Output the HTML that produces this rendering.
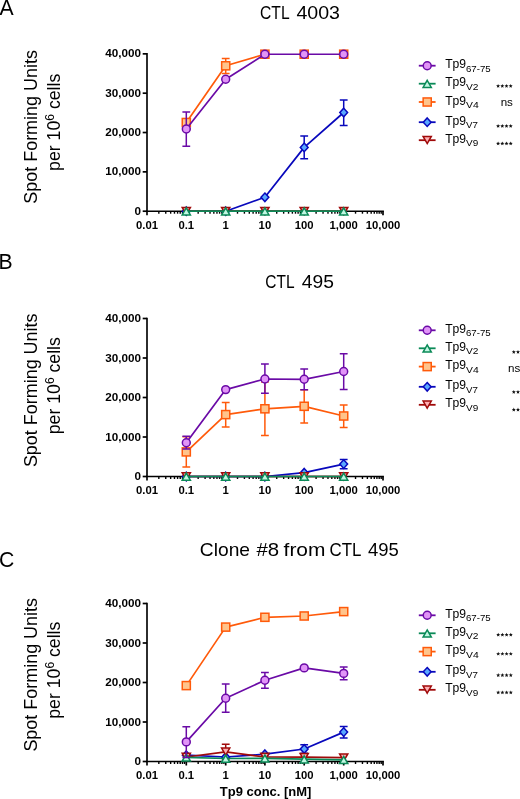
<!DOCTYPE html>
<html><head><meta charset="utf-8"><title>Tp9 ELISpot</title>
<style>
html,body{margin:0;padding:0;background:#fff;width:520px;height:799px;overflow:hidden}
svg{display:block;font-family:"Liberation Sans",sans-serif;will-change:transform}
</style></head><body>
<svg width="520" height="799" viewBox="0 0 520 799"><text x="-0.4" y="15.3" font-size="21.2" font-family='"Liberation Sans", sans-serif'>A</text>
<text x="260.06" y="19.4" font-size="18.6" textLength="29.56" lengthAdjust="spacingAndGlyphs" font-family='"Liberation Sans", sans-serif'>CTL</text>
<text x="296.4" y="19.4" font-size="18.6" textLength="43.6" lengthAdjust="spacingAndGlyphs" font-family='"Liberation Sans", sans-serif'>4003</text>
<text transform="translate(36.7 126.90) rotate(-90)" font-size="17.7" text-anchor="middle" textLength="153.6" lengthAdjust="spacingAndGlyphs" font-family='"Liberation Sans", sans-serif'>Spot Forming Units</text>
<text transform="translate(59.9 122.30) rotate(-90)" font-size="17.7" text-anchor="middle" font-family='"Liberation Sans", sans-serif'>per 10<tspan font-size="12" dy="-6.3">6</tspan><tspan dy="6.3"> cells</tspan></text>
<path d="M147.0 53.00V215.20" stroke="#000" stroke-width="1.65" fill="none"/>
<path d="M146.1 211.20H383.90" stroke="#000" stroke-width="1.65" fill="none"/>
<path d="M142.70 211.20H147.0" stroke="#000" stroke-width="1.7"/>
<text x="140.9" y="214.80" font-size="11.7" font-weight="bold" text-anchor="end" font-family='"Liberation Sans", sans-serif'>0</text>
<path d="M142.70 171.86H147.0" stroke="#000" stroke-width="1.7"/>
<text x="140.9" y="175.46" font-size="11.7" font-weight="bold" text-anchor="end" font-family='"Liberation Sans", sans-serif'>10,000</text>
<path d="M142.70 132.52H147.0" stroke="#000" stroke-width="1.7"/>
<text x="140.9" y="136.12" font-size="11.7" font-weight="bold" text-anchor="end" font-family='"Liberation Sans", sans-serif'>20,000</text>
<path d="M142.70 93.19H147.0" stroke="#000" stroke-width="1.7"/>
<text x="140.9" y="96.79" font-size="11.7" font-weight="bold" text-anchor="end" font-family='"Liberation Sans", sans-serif'>30,000</text>
<path d="M142.70 53.85H147.0" stroke="#000" stroke-width="1.7"/>
<text x="140.9" y="57.45" font-size="11.7" font-weight="bold" text-anchor="end" font-family='"Liberation Sans", sans-serif'>40,000</text>
<path d="M158.83 211.20V213.70" stroke="#000" stroke-width="1.4"/>
<path d="M165.75 211.20V213.70" stroke="#000" stroke-width="1.4"/>
<path d="M170.66 211.20V213.70" stroke="#000" stroke-width="1.4"/>
<path d="M174.47 211.20V213.70" stroke="#000" stroke-width="1.4"/>
<path d="M177.58 211.20V213.70" stroke="#000" stroke-width="1.4"/>
<path d="M180.21 211.20V213.70" stroke="#000" stroke-width="1.4"/>
<path d="M182.49 211.20V213.70" stroke="#000" stroke-width="1.4"/>
<path d="M184.50 211.20V213.70" stroke="#000" stroke-width="1.4"/>
<path d="M186.30 211.20V215.20" stroke="#000" stroke-width="1.7"/>
<path d="M198.16 211.20V213.70" stroke="#000" stroke-width="1.4"/>
<path d="M205.10 211.20V213.70" stroke="#000" stroke-width="1.4"/>
<path d="M210.02 211.20V213.70" stroke="#000" stroke-width="1.4"/>
<path d="M213.84 211.20V213.70" stroke="#000" stroke-width="1.4"/>
<path d="M216.96 211.20V213.70" stroke="#000" stroke-width="1.4"/>
<path d="M219.60 211.20V213.70" stroke="#000" stroke-width="1.4"/>
<path d="M221.88 211.20V213.70" stroke="#000" stroke-width="1.4"/>
<path d="M223.90 211.20V213.70" stroke="#000" stroke-width="1.4"/>
<path d="M225.70 211.20V215.20" stroke="#000" stroke-width="1.7"/>
<path d="M237.50 211.20V213.70" stroke="#000" stroke-width="1.4"/>
<path d="M244.40 211.20V213.70" stroke="#000" stroke-width="1.4"/>
<path d="M249.30 211.20V213.70" stroke="#000" stroke-width="1.4"/>
<path d="M253.10 211.20V213.70" stroke="#000" stroke-width="1.4"/>
<path d="M256.20 211.20V213.70" stroke="#000" stroke-width="1.4"/>
<path d="M258.83 211.20V213.70" stroke="#000" stroke-width="1.4"/>
<path d="M261.10 211.20V213.70" stroke="#000" stroke-width="1.4"/>
<path d="M263.11 211.20V213.70" stroke="#000" stroke-width="1.4"/>
<path d="M264.90 211.20V215.20" stroke="#000" stroke-width="1.7"/>
<path d="M276.73 211.20V213.70" stroke="#000" stroke-width="1.4"/>
<path d="M283.65 211.20V213.70" stroke="#000" stroke-width="1.4"/>
<path d="M288.56 211.20V213.70" stroke="#000" stroke-width="1.4"/>
<path d="M292.37 211.20V213.70" stroke="#000" stroke-width="1.4"/>
<path d="M295.48 211.20V213.70" stroke="#000" stroke-width="1.4"/>
<path d="M298.11 211.20V213.70" stroke="#000" stroke-width="1.4"/>
<path d="M300.39 211.20V213.70" stroke="#000" stroke-width="1.4"/>
<path d="M302.40 211.20V213.70" stroke="#000" stroke-width="1.4"/>
<path d="M304.20 211.20V215.20" stroke="#000" stroke-width="1.7"/>
<path d="M316.09 211.20V213.70" stroke="#000" stroke-width="1.4"/>
<path d="M323.05 211.20V213.70" stroke="#000" stroke-width="1.4"/>
<path d="M327.98 211.20V213.70" stroke="#000" stroke-width="1.4"/>
<path d="M331.81 211.20V213.70" stroke="#000" stroke-width="1.4"/>
<path d="M334.94 211.20V213.70" stroke="#000" stroke-width="1.4"/>
<path d="M337.58 211.20V213.70" stroke="#000" stroke-width="1.4"/>
<path d="M339.87 211.20V213.70" stroke="#000" stroke-width="1.4"/>
<path d="M341.89 211.20V213.70" stroke="#000" stroke-width="1.4"/>
<path d="M343.70 211.20V215.20" stroke="#000" stroke-width="1.7"/>
<path d="M355.53 211.20V213.70" stroke="#000" stroke-width="1.4"/>
<path d="M362.45 211.20V213.70" stroke="#000" stroke-width="1.4"/>
<path d="M367.36 211.20V213.70" stroke="#000" stroke-width="1.4"/>
<path d="M371.17 211.20V213.70" stroke="#000" stroke-width="1.4"/>
<path d="M374.28 211.20V213.70" stroke="#000" stroke-width="1.4"/>
<path d="M376.91 211.20V213.70" stroke="#000" stroke-width="1.4"/>
<path d="M379.19 211.20V213.70" stroke="#000" stroke-width="1.4"/>
<path d="M381.20 211.20V213.70" stroke="#000" stroke-width="1.4"/>
<path d="M383.00 211.20V215.20" stroke="#000" stroke-width="1.7"/>
<text x="147.00" y="228.70" font-size="11.3" font-weight="bold" text-anchor="middle" font-family='"Liberation Sans", sans-serif'>0.01</text>
<text x="186.30" y="228.70" font-size="11.3" font-weight="bold" text-anchor="middle" font-family='"Liberation Sans", sans-serif'>0.1</text>
<text x="225.70" y="228.70" font-size="11.3" font-weight="bold" text-anchor="middle" font-family='"Liberation Sans", sans-serif'>1</text>
<text x="264.90" y="228.70" font-size="11.3" font-weight="bold" text-anchor="middle" font-family='"Liberation Sans", sans-serif'>10</text>
<text x="304.20" y="228.70" font-size="11.3" font-weight="bold" text-anchor="middle" font-family='"Liberation Sans", sans-serif'>100</text>
<text x="343.70" y="228.70" font-size="11.3" font-weight="bold" text-anchor="middle" font-family='"Liberation Sans", sans-serif'>1,000</text>
<text x="383.00" y="228.70" font-size="11.3" font-weight="bold" text-anchor="middle" font-family='"Liberation Sans", sans-serif'>10,000</text>
<path d="M186.30 211.20L225.70 211.20L264.90 197.30L304.20 147.40L343.70 112.50" stroke="#0808bc" stroke-width="1.7" fill="none" stroke-linejoin="round"/>
<path d="M304.20 135.90V158.80M300.30 135.90H308.10M300.30 158.80H308.10" stroke="#0808bc" stroke-width="1.5" fill="none"/>
<path d="M343.70 99.90V125.60M339.80 99.90H347.60M339.80 125.60H347.60" stroke="#0808bc" stroke-width="1.5" fill="none"/>
<path d="M186.30 206.90L190.20 211.20L186.30 215.50L182.40 211.20Z" fill="#5aa8ff" stroke="#0808bc" stroke-width="1.5"/>
<path d="M225.70 206.90L229.60 211.20L225.70 215.50L221.80 211.20Z" fill="#5aa8ff" stroke="#0808bc" stroke-width="1.5"/>
<path d="M264.90 193.00L268.80 197.30L264.90 201.60L261.00 197.30Z" fill="#5aa8ff" stroke="#0808bc" stroke-width="1.5"/>
<path d="M304.20 143.10L308.10 147.40L304.20 151.70L300.30 147.40Z" fill="#5aa8ff" stroke="#0808bc" stroke-width="1.5"/>
<path d="M343.70 108.20L347.60 112.50L343.70 116.80L339.80 112.50Z" fill="#5aa8ff" stroke="#0808bc" stroke-width="1.5"/>
<path d="M186.30 211.20L225.70 211.20L264.90 211.20L304.20 211.20L343.70 211.20" stroke="#a00a0a" stroke-width="1.7" fill="none" stroke-linejoin="round"/>
<path d="M186.30 214.60L190.40 207.50L182.20 207.50Z" fill="#ffb0b4" stroke="#a00a0a" stroke-width="1.5" stroke-linejoin="miter"/>
<path d="M225.70 214.60L229.80 207.50L221.60 207.50Z" fill="#ffb0b4" stroke="#a00a0a" stroke-width="1.5" stroke-linejoin="miter"/>
<path d="M264.90 214.60L269.00 207.50L260.80 207.50Z" fill="#ffb0b4" stroke="#a00a0a" stroke-width="1.5" stroke-linejoin="miter"/>
<path d="M304.20 214.60L308.30 207.50L300.10 207.50Z" fill="#ffb0b4" stroke="#a00a0a" stroke-width="1.5" stroke-linejoin="miter"/>
<path d="M343.70 214.60L347.80 207.50L339.60 207.50Z" fill="#ffb0b4" stroke="#a00a0a" stroke-width="1.5" stroke-linejoin="miter"/>
<path d="M186.30 122.50L225.70 65.80L264.90 54.20" stroke="#ff5a0a" stroke-width="1.7" fill="none" stroke-linejoin="round"/>
<path d="M225.70 58.50V73.40M221.80 58.50H229.60M221.80 73.40H229.60" stroke="#ff5a0a" stroke-width="1.5" fill="none"/>
<rect x="182.25" y="118.45" width="8.1" height="8.1" fill="#ffc48c" stroke="#ff5a0a" stroke-width="1.5"/>
<rect x="221.65" y="61.75" width="8.1" height="8.1" fill="#ffc48c" stroke="#ff5a0a" stroke-width="1.5"/>
<rect x="260.85" y="50.15" width="8.1" height="8.1" fill="#ffc48c" stroke="#ff5a0a" stroke-width="1.5"/>
<rect x="300.15" y="50.15" width="8.1" height="8.1" fill="#ffc48c" stroke="#ff5a0a" stroke-width="1.5"/>
<rect x="339.65" y="50.15" width="8.1" height="8.1" fill="#ffc48c" stroke="#ff5a0a" stroke-width="1.5"/>
<path d="M186.30 211.20L225.70 211.20L264.90 211.20L304.20 211.20L343.70 211.20" stroke="#0b8a58" stroke-width="1.7" fill="none" stroke-linejoin="round"/>
<path d="M186.30 207.80L190.40 214.90L182.20 214.90Z" fill="#c2f7e2" stroke="#0b8a58" stroke-width="1.5" stroke-linejoin="miter"/>
<path d="M225.70 207.80L229.80 214.90L221.60 214.90Z" fill="#c2f7e2" stroke="#0b8a58" stroke-width="1.5" stroke-linejoin="miter"/>
<path d="M264.90 207.80L269.00 214.90L260.80 214.90Z" fill="#c2f7e2" stroke="#0b8a58" stroke-width="1.5" stroke-linejoin="miter"/>
<path d="M304.20 207.80L308.30 214.90L300.10 214.90Z" fill="#c2f7e2" stroke="#0b8a58" stroke-width="1.5" stroke-linejoin="miter"/>
<path d="M343.70 207.80L347.80 214.90L339.60 214.90Z" fill="#c2f7e2" stroke="#0b8a58" stroke-width="1.5" stroke-linejoin="miter"/>
<path d="M186.30 129.00L225.70 79.30L264.90 54.20" stroke="#6a0aa6" stroke-width="1.7" fill="none" stroke-linejoin="round"/>
<path d="M264.90 54.30L304.20 54.30M304.20 54.30L343.70 54.30" stroke="#6a0aa6" stroke-width="1.5" fill="none"/>
<path d="M186.30 111.90V146.20M182.40 111.90H190.20M182.40 146.20H190.20" stroke="#6a0aa6" stroke-width="1.5" fill="none"/>
<circle cx="186.30" cy="129.00" r="3.95" fill="#e194f7" stroke="#6a0aa6" stroke-width="1.5"/>
<circle cx="225.70" cy="79.30" r="3.95" fill="#e194f7" stroke="#6a0aa6" stroke-width="1.5"/>
<circle cx="264.90" cy="54.20" r="3.95" fill="#e194f7" stroke="#6a0aa6" stroke-width="1.5"/>
<circle cx="304.20" cy="54.20" r="3.95" fill="#e194f7" stroke="#6a0aa6" stroke-width="1.5"/>
<circle cx="343.70" cy="54.20" r="3.95" fill="#e194f7" stroke="#6a0aa6" stroke-width="1.5"/>
<path d="M418.8 65.70H435.6" stroke="#6a0aa6" stroke-width="1.8"/>
<circle cx="427.20" cy="65.70" r="3.95" fill="#e194f7" stroke="#6a0aa6" stroke-width="1.5"/>
<text x="445.2" y="68.30" font-size="12.4" textLength="20.9" lengthAdjust="spacingAndGlyphs" font-family='"Liberation Sans", sans-serif'>Tp9</text>
<text x="466.0" y="71.80" font-size="9.7" textLength="24.7" lengthAdjust="spacingAndGlyphs" font-family='"Liberation Sans", sans-serif'>67-75</text>
<path d="M418.8 83.70H435.6" stroke="#0b8a58" stroke-width="1.8"/>
<path d="M427.20 80.30L431.30 87.40L423.10 87.40Z" fill="#c2f7e2" stroke="#0b8a58" stroke-width="1.5" stroke-linejoin="miter"/>
<text x="445.2" y="86.40" font-size="12.4" textLength="20.9" lengthAdjust="spacingAndGlyphs" font-family='"Liberation Sans", sans-serif'>Tp9</text>
<text x="466.0" y="89.80" font-size="9.7" textLength="12.5" lengthAdjust="spacingAndGlyphs" font-family='"Liberation Sans", sans-serif'>V2</text>
<polygon points="498.10,83.90 498.66,85.23 500.10,85.35 499.00,86.29 499.33,87.70 498.10,86.95 496.87,87.70 497.20,86.29 496.10,85.35 497.54,85.23" fill="#111"/><polygon points="502.30,83.90 502.86,85.23 504.30,85.35 503.20,86.29 503.53,87.70 502.30,86.95 501.07,87.70 501.40,86.29 500.30,85.35 501.74,85.23" fill="#111"/><polygon points="506.50,83.90 507.06,85.23 508.50,85.35 507.40,86.29 507.73,87.70 506.50,86.95 505.27,87.70 505.60,86.29 504.50,85.35 505.94,85.23" fill="#111"/><polygon points="510.70,83.90 511.26,85.23 512.70,85.35 511.60,86.29 511.93,87.70 510.70,86.95 509.47,87.70 509.80,86.29 508.70,85.35 510.14,85.23" fill="#111"/>
<path d="M418.8 102.00H435.6" stroke="#ff5a0a" stroke-width="1.8"/>
<rect x="423.15" y="97.95" width="8.1" height="8.1" fill="#ffc48c" stroke="#ff5a0a" stroke-width="1.5"/>
<text x="445.2" y="104.70" font-size="12.4" textLength="20.9" lengthAdjust="spacingAndGlyphs" font-family='"Liberation Sans", sans-serif'>Tp9</text>
<text x="466.0" y="107.90" font-size="9.7" textLength="12.7" lengthAdjust="spacingAndGlyphs" font-family='"Liberation Sans", sans-serif'>V4</text>
<text x="512.90" y="106.40" font-size="11.6" text-anchor="end" font-family='"Liberation Sans", sans-serif'>ns</text>
<path d="M418.8 122.20H435.6" stroke="#0808bc" stroke-width="1.8"/>
<path d="M427.20 117.90L431.10 122.20L427.20 126.50L423.30 122.20Z" fill="#5aa8ff" stroke="#0808bc" stroke-width="1.5"/>
<text x="445.2" y="124.50" font-size="12.4" textLength="20.9" lengthAdjust="spacingAndGlyphs" font-family='"Liberation Sans", sans-serif'>Tp9</text>
<text x="466.0" y="128.00" font-size="9.7" textLength="11.9" lengthAdjust="spacingAndGlyphs" font-family='"Liberation Sans", sans-serif'>V7</text>
<polygon points="498.10,124.00 498.66,125.33 500.10,125.45 499.00,126.39 499.33,127.80 498.10,127.05 496.87,127.80 497.20,126.39 496.10,125.45 497.54,125.33" fill="#111"/><polygon points="502.30,124.00 502.86,125.33 504.30,125.45 503.20,126.39 503.53,127.80 502.30,127.05 501.07,127.80 501.40,126.39 500.30,125.45 501.74,125.33" fill="#111"/><polygon points="506.50,124.00 507.06,125.33 508.50,125.45 507.40,126.39 507.73,127.80 506.50,127.05 505.27,127.80 505.60,126.39 504.50,125.45 505.94,125.33" fill="#111"/><polygon points="510.70,124.00 511.26,125.33 512.70,125.45 511.60,126.39 511.93,127.80 510.70,127.05 509.47,127.80 509.80,126.39 508.70,125.45 510.14,125.33" fill="#111"/>
<path d="M418.8 140.20H435.6" stroke="#a00a0a" stroke-width="1.8"/>
<path d="M427.20 143.60L431.30 136.50L423.10 136.50Z" fill="#ffb0b4" stroke="#a00a0a" stroke-width="1.5" stroke-linejoin="miter"/>
<text x="445.2" y="142.60" font-size="12.4" textLength="20.9" lengthAdjust="spacingAndGlyphs" font-family='"Liberation Sans", sans-serif'>Tp9</text>
<text x="466.0" y="146.30" font-size="9.7" textLength="12.2" lengthAdjust="spacingAndGlyphs" font-family='"Liberation Sans", sans-serif'>V9</text>
<polygon points="498.10,141.50 498.66,142.83 500.10,142.95 499.00,143.89 499.33,145.30 498.10,144.55 496.87,145.30 497.20,143.89 496.10,142.95 497.54,142.83" fill="#111"/><polygon points="502.30,141.50 502.86,142.83 504.30,142.95 503.20,143.89 503.53,145.30 502.30,144.55 501.07,145.30 501.40,143.89 500.30,142.95 501.74,142.83" fill="#111"/><polygon points="506.50,141.50 507.06,142.83 508.50,142.95 507.40,143.89 507.73,145.30 506.50,144.55 505.27,145.30 505.60,143.89 504.50,142.95 505.94,142.83" fill="#111"/><polygon points="510.70,141.50 511.26,142.83 512.70,142.95 511.60,143.89 511.93,145.30 510.70,144.55 509.47,145.30 509.80,143.89 508.70,142.95 510.14,142.83" fill="#111"/>
<text x="-1.4" y="268.7" font-size="21.2" font-family='"Liberation Sans", sans-serif'>B</text>
<text x="265.27" y="287.8" font-size="18.6" textLength="29.25" lengthAdjust="spacingAndGlyphs" font-family='"Liberation Sans", sans-serif'>CTL</text>
<text x="301.8" y="287.8" font-size="18.6" textLength="32.13" lengthAdjust="spacingAndGlyphs" font-family='"Liberation Sans", sans-serif'>495</text>
<text transform="translate(36.7 390.30) rotate(-90)" font-size="17.7" text-anchor="middle" textLength="153.6" lengthAdjust="spacingAndGlyphs" font-family='"Liberation Sans", sans-serif'>Spot Forming Units</text>
<text transform="translate(59.9 385.70) rotate(-90)" font-size="17.7" text-anchor="middle" font-family='"Liberation Sans", sans-serif'>per 10<tspan font-size="12" dy="-6.3">6</tspan><tspan dy="6.3"> cells</tspan></text>
<path d="M147.0 317.65V480.50" stroke="#000" stroke-width="1.65" fill="none"/>
<path d="M146.1 476.50H383.90" stroke="#000" stroke-width="1.65" fill="none"/>
<path d="M142.70 476.50H147.0" stroke="#000" stroke-width="1.7"/>
<text x="140.9" y="480.10" font-size="11.7" font-weight="bold" text-anchor="end" font-family='"Liberation Sans", sans-serif'>0</text>
<path d="M142.70 437.00H147.0" stroke="#000" stroke-width="1.7"/>
<text x="140.9" y="440.60" font-size="11.7" font-weight="bold" text-anchor="end" font-family='"Liberation Sans", sans-serif'>10,000</text>
<path d="M142.70 397.50H147.0" stroke="#000" stroke-width="1.7"/>
<text x="140.9" y="401.10" font-size="11.7" font-weight="bold" text-anchor="end" font-family='"Liberation Sans", sans-serif'>20,000</text>
<path d="M142.70 358.00H147.0" stroke="#000" stroke-width="1.7"/>
<text x="140.9" y="361.60" font-size="11.7" font-weight="bold" text-anchor="end" font-family='"Liberation Sans", sans-serif'>30,000</text>
<path d="M142.70 318.50H147.0" stroke="#000" stroke-width="1.7"/>
<text x="140.9" y="322.10" font-size="11.7" font-weight="bold" text-anchor="end" font-family='"Liberation Sans", sans-serif'>40,000</text>
<path d="M158.83 476.50V479.00" stroke="#000" stroke-width="1.4"/>
<path d="M165.75 476.50V479.00" stroke="#000" stroke-width="1.4"/>
<path d="M170.66 476.50V479.00" stroke="#000" stroke-width="1.4"/>
<path d="M174.47 476.50V479.00" stroke="#000" stroke-width="1.4"/>
<path d="M177.58 476.50V479.00" stroke="#000" stroke-width="1.4"/>
<path d="M180.21 476.50V479.00" stroke="#000" stroke-width="1.4"/>
<path d="M182.49 476.50V479.00" stroke="#000" stroke-width="1.4"/>
<path d="M184.50 476.50V479.00" stroke="#000" stroke-width="1.4"/>
<path d="M186.30 476.50V480.50" stroke="#000" stroke-width="1.7"/>
<path d="M198.16 476.50V479.00" stroke="#000" stroke-width="1.4"/>
<path d="M205.10 476.50V479.00" stroke="#000" stroke-width="1.4"/>
<path d="M210.02 476.50V479.00" stroke="#000" stroke-width="1.4"/>
<path d="M213.84 476.50V479.00" stroke="#000" stroke-width="1.4"/>
<path d="M216.96 476.50V479.00" stroke="#000" stroke-width="1.4"/>
<path d="M219.60 476.50V479.00" stroke="#000" stroke-width="1.4"/>
<path d="M221.88 476.50V479.00" stroke="#000" stroke-width="1.4"/>
<path d="M223.90 476.50V479.00" stroke="#000" stroke-width="1.4"/>
<path d="M225.70 476.50V480.50" stroke="#000" stroke-width="1.7"/>
<path d="M237.50 476.50V479.00" stroke="#000" stroke-width="1.4"/>
<path d="M244.40 476.50V479.00" stroke="#000" stroke-width="1.4"/>
<path d="M249.30 476.50V479.00" stroke="#000" stroke-width="1.4"/>
<path d="M253.10 476.50V479.00" stroke="#000" stroke-width="1.4"/>
<path d="M256.20 476.50V479.00" stroke="#000" stroke-width="1.4"/>
<path d="M258.83 476.50V479.00" stroke="#000" stroke-width="1.4"/>
<path d="M261.10 476.50V479.00" stroke="#000" stroke-width="1.4"/>
<path d="M263.11 476.50V479.00" stroke="#000" stroke-width="1.4"/>
<path d="M264.90 476.50V480.50" stroke="#000" stroke-width="1.7"/>
<path d="M276.73 476.50V479.00" stroke="#000" stroke-width="1.4"/>
<path d="M283.65 476.50V479.00" stroke="#000" stroke-width="1.4"/>
<path d="M288.56 476.50V479.00" stroke="#000" stroke-width="1.4"/>
<path d="M292.37 476.50V479.00" stroke="#000" stroke-width="1.4"/>
<path d="M295.48 476.50V479.00" stroke="#000" stroke-width="1.4"/>
<path d="M298.11 476.50V479.00" stroke="#000" stroke-width="1.4"/>
<path d="M300.39 476.50V479.00" stroke="#000" stroke-width="1.4"/>
<path d="M302.40 476.50V479.00" stroke="#000" stroke-width="1.4"/>
<path d="M304.20 476.50V480.50" stroke="#000" stroke-width="1.7"/>
<path d="M316.09 476.50V479.00" stroke="#000" stroke-width="1.4"/>
<path d="M323.05 476.50V479.00" stroke="#000" stroke-width="1.4"/>
<path d="M327.98 476.50V479.00" stroke="#000" stroke-width="1.4"/>
<path d="M331.81 476.50V479.00" stroke="#000" stroke-width="1.4"/>
<path d="M334.94 476.50V479.00" stroke="#000" stroke-width="1.4"/>
<path d="M337.58 476.50V479.00" stroke="#000" stroke-width="1.4"/>
<path d="M339.87 476.50V479.00" stroke="#000" stroke-width="1.4"/>
<path d="M341.89 476.50V479.00" stroke="#000" stroke-width="1.4"/>
<path d="M343.70 476.50V480.50" stroke="#000" stroke-width="1.7"/>
<path d="M355.53 476.50V479.00" stroke="#000" stroke-width="1.4"/>
<path d="M362.45 476.50V479.00" stroke="#000" stroke-width="1.4"/>
<path d="M367.36 476.50V479.00" stroke="#000" stroke-width="1.4"/>
<path d="M371.17 476.50V479.00" stroke="#000" stroke-width="1.4"/>
<path d="M374.28 476.50V479.00" stroke="#000" stroke-width="1.4"/>
<path d="M376.91 476.50V479.00" stroke="#000" stroke-width="1.4"/>
<path d="M379.19 476.50V479.00" stroke="#000" stroke-width="1.4"/>
<path d="M381.20 476.50V479.00" stroke="#000" stroke-width="1.4"/>
<path d="M383.00 476.50V480.50" stroke="#000" stroke-width="1.7"/>
<text x="147.00" y="494.00" font-size="11.3" font-weight="bold" text-anchor="middle" font-family='"Liberation Sans", sans-serif'>0.01</text>
<text x="186.30" y="494.00" font-size="11.3" font-weight="bold" text-anchor="middle" font-family='"Liberation Sans", sans-serif'>0.1</text>
<text x="225.70" y="494.00" font-size="11.3" font-weight="bold" text-anchor="middle" font-family='"Liberation Sans", sans-serif'>1</text>
<text x="264.90" y="494.00" font-size="11.3" font-weight="bold" text-anchor="middle" font-family='"Liberation Sans", sans-serif'>10</text>
<text x="304.20" y="494.00" font-size="11.3" font-weight="bold" text-anchor="middle" font-family='"Liberation Sans", sans-serif'>100</text>
<text x="343.70" y="494.00" font-size="11.3" font-weight="bold" text-anchor="middle" font-family='"Liberation Sans", sans-serif'>1,000</text>
<text x="383.00" y="494.00" font-size="11.3" font-weight="bold" text-anchor="middle" font-family='"Liberation Sans", sans-serif'>10,000</text>
<path d="M186.30 476.50L225.70 476.50L264.90 476.50L304.20 472.70L343.70 464.10" stroke="#0808bc" stroke-width="1.7" fill="none" stroke-linejoin="round"/>
<path d="M343.70 459.60V468.70M339.80 459.60H347.60M339.80 468.70H347.60" stroke="#0808bc" stroke-width="1.5" fill="none"/>
<path d="M186.30 472.20L190.20 476.50L186.30 480.80L182.40 476.50Z" fill="#5aa8ff" stroke="#0808bc" stroke-width="1.5"/>
<path d="M225.70 472.20L229.60 476.50L225.70 480.80L221.80 476.50Z" fill="#5aa8ff" stroke="#0808bc" stroke-width="1.5"/>
<path d="M264.90 472.20L268.80 476.50L264.90 480.80L261.00 476.50Z" fill="#5aa8ff" stroke="#0808bc" stroke-width="1.5"/>
<path d="M304.20 468.40L308.10 472.70L304.20 477.00L300.30 472.70Z" fill="#5aa8ff" stroke="#0808bc" stroke-width="1.5"/>
<path d="M343.70 459.80L347.60 464.10L343.70 468.40L339.80 464.10Z" fill="#5aa8ff" stroke="#0808bc" stroke-width="1.5"/>
<path d="M186.30 476.50L225.70 476.50L264.90 476.50L304.20 476.50L343.70 476.50" stroke="#a00a0a" stroke-width="1.7" fill="none" stroke-linejoin="round"/>
<path d="M186.30 479.90L190.40 472.80L182.20 472.80Z" fill="#ffb0b4" stroke="#a00a0a" stroke-width="1.5" stroke-linejoin="miter"/>
<path d="M225.70 479.90L229.80 472.80L221.60 472.80Z" fill="#ffb0b4" stroke="#a00a0a" stroke-width="1.5" stroke-linejoin="miter"/>
<path d="M264.90 479.90L269.00 472.80L260.80 472.80Z" fill="#ffb0b4" stroke="#a00a0a" stroke-width="1.5" stroke-linejoin="miter"/>
<path d="M304.20 479.90L308.30 472.80L300.10 472.80Z" fill="#ffb0b4" stroke="#a00a0a" stroke-width="1.5" stroke-linejoin="miter"/>
<path d="M343.70 479.90L347.80 472.80L339.60 472.80Z" fill="#ffb0b4" stroke="#a00a0a" stroke-width="1.5" stroke-linejoin="miter"/>
<path d="M186.30 451.90L225.70 414.60L264.90 408.80L304.20 406.30L343.70 416.00" stroke="#ff5a0a" stroke-width="1.7" fill="none" stroke-linejoin="round"/>
<path d="M186.30 436.80V467.00M182.40 436.80H190.20M182.40 467.00H190.20" stroke="#ff5a0a" stroke-width="1.5" fill="none"/>
<path d="M225.70 402.50V426.90M221.80 402.50H229.60M221.80 426.90H229.60" stroke="#ff5a0a" stroke-width="1.5" fill="none"/>
<path d="M264.90 382.00V435.60M261.00 382.00H268.80M261.00 435.60H268.80" stroke="#ff5a0a" stroke-width="1.5" fill="none"/>
<path d="M304.20 389.70V422.90M300.30 389.70H308.10M300.30 422.90H308.10" stroke="#ff5a0a" stroke-width="1.5" fill="none"/>
<path d="M343.70 405.00V427.60M339.80 405.00H347.60M339.80 427.60H347.60" stroke="#ff5a0a" stroke-width="1.5" fill="none"/>
<rect x="182.25" y="447.85" width="8.1" height="8.1" fill="#ffc48c" stroke="#ff5a0a" stroke-width="1.5"/>
<rect x="221.65" y="410.55" width="8.1" height="8.1" fill="#ffc48c" stroke="#ff5a0a" stroke-width="1.5"/>
<rect x="260.85" y="404.75" width="8.1" height="8.1" fill="#ffc48c" stroke="#ff5a0a" stroke-width="1.5"/>
<rect x="300.15" y="402.25" width="8.1" height="8.1" fill="#ffc48c" stroke="#ff5a0a" stroke-width="1.5"/>
<rect x="339.65" y="411.95" width="8.1" height="8.1" fill="#ffc48c" stroke="#ff5a0a" stroke-width="1.5"/>
<path d="M186.30 476.50L225.70 476.50L264.90 476.50L304.20 476.50L343.70 476.50" stroke="#0b8a58" stroke-width="1.7" fill="none" stroke-linejoin="round"/>
<path d="M186.30 473.10L190.40 480.20L182.20 480.20Z" fill="#c2f7e2" stroke="#0b8a58" stroke-width="1.5" stroke-linejoin="miter"/>
<path d="M225.70 473.10L229.80 480.20L221.60 480.20Z" fill="#c2f7e2" stroke="#0b8a58" stroke-width="1.5" stroke-linejoin="miter"/>
<path d="M264.90 473.10L269.00 480.20L260.80 480.20Z" fill="#c2f7e2" stroke="#0b8a58" stroke-width="1.5" stroke-linejoin="miter"/>
<path d="M304.20 473.10L308.30 480.20L300.10 480.20Z" fill="#c2f7e2" stroke="#0b8a58" stroke-width="1.5" stroke-linejoin="miter"/>
<path d="M343.70 473.10L347.80 480.20L339.60 480.20Z" fill="#c2f7e2" stroke="#0b8a58" stroke-width="1.5" stroke-linejoin="miter"/>
<path d="M186.30 442.70L225.70 389.60L264.90 379.00L304.20 379.30L343.70 371.50" stroke="#6a0aa6" stroke-width="1.7" fill="none" stroke-linejoin="round"/>
<path d="M186.30 436.30V449.10M182.40 436.30H190.20M182.40 449.10H190.20" stroke="#6a0aa6" stroke-width="1.5" fill="none"/>
<path d="M264.90 364.00V393.30M261.00 364.00H268.80M261.00 393.30H268.80" stroke="#6a0aa6" stroke-width="1.5" fill="none"/>
<path d="M304.20 368.90V389.70M300.30 368.90H308.10M300.30 389.70H308.10" stroke="#6a0aa6" stroke-width="1.5" fill="none"/>
<path d="M343.70 353.70V389.40M339.80 353.70H347.60M339.80 389.40H347.60" stroke="#6a0aa6" stroke-width="1.5" fill="none"/>
<circle cx="186.30" cy="442.70" r="3.95" fill="#e194f7" stroke="#6a0aa6" stroke-width="1.5"/>
<circle cx="225.70" cy="389.60" r="3.95" fill="#e194f7" stroke="#6a0aa6" stroke-width="1.5"/>
<circle cx="264.90" cy="379.00" r="3.95" fill="#e194f7" stroke="#6a0aa6" stroke-width="1.5"/>
<circle cx="304.20" cy="379.30" r="3.95" fill="#e194f7" stroke="#6a0aa6" stroke-width="1.5"/>
<circle cx="343.70" cy="371.50" r="3.95" fill="#e194f7" stroke="#6a0aa6" stroke-width="1.5"/>
<path d="M418.8 330.30H435.6" stroke="#6a0aa6" stroke-width="1.8"/>
<circle cx="427.20" cy="330.30" r="3.95" fill="#e194f7" stroke="#6a0aa6" stroke-width="1.5"/>
<text x="445.2" y="332.90" font-size="12.4" textLength="20.9" lengthAdjust="spacingAndGlyphs" font-family='"Liberation Sans", sans-serif'>Tp9</text>
<text x="466.0" y="336.40" font-size="9.7" textLength="24.7" lengthAdjust="spacingAndGlyphs" font-family='"Liberation Sans", sans-serif'>67-75</text>
<path d="M418.8 348.30H435.6" stroke="#0b8a58" stroke-width="1.8"/>
<path d="M427.20 344.90L431.30 352.00L423.10 352.00Z" fill="#c2f7e2" stroke="#0b8a58" stroke-width="1.5" stroke-linejoin="miter"/>
<text x="445.2" y="351.00" font-size="12.4" textLength="20.9" lengthAdjust="spacingAndGlyphs" font-family='"Liberation Sans", sans-serif'>Tp9</text>
<text x="466.0" y="354.40" font-size="9.7" textLength="12.5" lengthAdjust="spacingAndGlyphs" font-family='"Liberation Sans", sans-serif'>V2</text>
<polygon points="513.80,349.90 514.36,351.23 515.80,351.35 514.70,352.29 515.03,353.70 513.80,352.95 512.57,353.70 512.90,352.29 511.80,351.35 513.24,351.23" fill="#111"/><polygon points="518.00,349.90 518.56,351.23 520.00,351.35 518.90,352.29 519.23,353.70 518.00,352.95 516.77,353.70 517.10,352.29 516.00,351.35 517.44,351.23" fill="#111"/>
<path d="M418.8 366.60H435.6" stroke="#ff5a0a" stroke-width="1.8"/>
<rect x="423.15" y="362.55" width="8.1" height="8.1" fill="#ffc48c" stroke="#ff5a0a" stroke-width="1.5"/>
<text x="445.2" y="369.30" font-size="12.4" textLength="20.9" lengthAdjust="spacingAndGlyphs" font-family='"Liberation Sans", sans-serif'>Tp9</text>
<text x="466.0" y="372.50" font-size="9.7" textLength="12.7" lengthAdjust="spacingAndGlyphs" font-family='"Liberation Sans", sans-serif'>V4</text>
<text x="520.30" y="372.20" font-size="11.6" text-anchor="end" font-family='"Liberation Sans", sans-serif'>ns</text>
<path d="M418.8 386.80H435.6" stroke="#0808bc" stroke-width="1.8"/>
<path d="M427.20 382.50L431.10 386.80L427.20 391.10L423.30 386.80Z" fill="#5aa8ff" stroke="#0808bc" stroke-width="1.5"/>
<text x="445.2" y="389.10" font-size="12.4" textLength="20.9" lengthAdjust="spacingAndGlyphs" font-family='"Liberation Sans", sans-serif'>Tp9</text>
<text x="466.0" y="392.60" font-size="9.7" textLength="11.9" lengthAdjust="spacingAndGlyphs" font-family='"Liberation Sans", sans-serif'>V7</text>
<polygon points="513.80,389.90 514.36,391.23 515.80,391.35 514.70,392.29 515.03,393.70 513.80,392.95 512.57,393.70 512.90,392.29 511.80,391.35 513.24,391.23" fill="#111"/><polygon points="518.00,389.90 518.56,391.23 520.00,391.35 518.90,392.29 519.23,393.70 518.00,392.95 516.77,393.70 517.10,392.29 516.00,391.35 517.44,391.23" fill="#111"/>
<path d="M418.8 404.80H435.6" stroke="#a00a0a" stroke-width="1.8"/>
<path d="M427.20 408.20L431.30 401.10L423.10 401.10Z" fill="#ffb0b4" stroke="#a00a0a" stroke-width="1.5" stroke-linejoin="miter"/>
<text x="445.2" y="407.20" font-size="12.4" textLength="20.9" lengthAdjust="spacingAndGlyphs" font-family='"Liberation Sans", sans-serif'>Tp9</text>
<text x="466.0" y="410.90" font-size="9.7" textLength="12.2" lengthAdjust="spacingAndGlyphs" font-family='"Liberation Sans", sans-serif'>V9</text>
<polygon points="513.80,407.60 514.36,408.93 515.80,409.05 514.70,409.99 515.03,411.40 513.80,410.65 512.57,411.40 512.90,409.99 511.80,409.05 513.24,408.93" fill="#111"/><polygon points="518.00,407.60 518.56,408.93 520.00,409.05 518.90,409.99 519.23,411.40 518.00,410.65 516.77,411.40 517.10,409.99 516.00,409.05 517.44,408.93" fill="#111"/>
<text x="-0.9" y="566.6" font-size="21.2" font-family='"Liberation Sans", sans-serif'>C</text>
<text x="199.87" y="556.3" font-size="18.6" textLength="50.14" lengthAdjust="spacingAndGlyphs" font-family='"Liberation Sans", sans-serif'>Clone</text>
<text x="256.5" y="556.3" font-size="18.6" textLength="22.65" lengthAdjust="spacingAndGlyphs" font-family='"Liberation Sans", sans-serif'>&#35;8</text>
<text x="283.6" y="556.3" font-size="18.6" textLength="41.84" lengthAdjust="spacingAndGlyphs" font-family='"Liberation Sans", sans-serif'>from</text>
<text x="329.59" y="556.3" font-size="18.6" textLength="31.83" lengthAdjust="spacingAndGlyphs" font-family='"Liberation Sans", sans-serif'>CTL</text>
<text x="368.0" y="556.3" font-size="18.6" textLength="30.83" lengthAdjust="spacingAndGlyphs" font-family='"Liberation Sans", sans-serif'>495</text>
<text transform="translate(36.7 674.80) rotate(-90)" font-size="17.7" text-anchor="middle" textLength="153.6" lengthAdjust="spacingAndGlyphs" font-family='"Liberation Sans", sans-serif'>Spot Forming Units</text>
<text transform="translate(59.9 670.20) rotate(-90)" font-size="17.7" text-anchor="middle" font-family='"Liberation Sans", sans-serif'>per 10<tspan font-size="12" dy="-6.3">6</tspan><tspan dy="6.3"> cells</tspan></text>
<path d="M147.0 602.65V765.50" stroke="#000" stroke-width="1.65" fill="none"/>
<path d="M146.1 761.50H383.90" stroke="#000" stroke-width="1.65" fill="none"/>
<path d="M142.70 761.50H147.0" stroke="#000" stroke-width="1.7"/>
<text x="140.9" y="765.10" font-size="11.7" font-weight="bold" text-anchor="end" font-family='"Liberation Sans", sans-serif'>0</text>
<path d="M142.70 722.00H147.0" stroke="#000" stroke-width="1.7"/>
<text x="140.9" y="725.60" font-size="11.7" font-weight="bold" text-anchor="end" font-family='"Liberation Sans", sans-serif'>10,000</text>
<path d="M142.70 682.50H147.0" stroke="#000" stroke-width="1.7"/>
<text x="140.9" y="686.10" font-size="11.7" font-weight="bold" text-anchor="end" font-family='"Liberation Sans", sans-serif'>20,000</text>
<path d="M142.70 643.00H147.0" stroke="#000" stroke-width="1.7"/>
<text x="140.9" y="646.60" font-size="11.7" font-weight="bold" text-anchor="end" font-family='"Liberation Sans", sans-serif'>30,000</text>
<path d="M142.70 603.50H147.0" stroke="#000" stroke-width="1.7"/>
<text x="140.9" y="607.10" font-size="11.7" font-weight="bold" text-anchor="end" font-family='"Liberation Sans", sans-serif'>40,000</text>
<path d="M158.83 761.50V764.00" stroke="#000" stroke-width="1.4"/>
<path d="M165.75 761.50V764.00" stroke="#000" stroke-width="1.4"/>
<path d="M170.66 761.50V764.00" stroke="#000" stroke-width="1.4"/>
<path d="M174.47 761.50V764.00" stroke="#000" stroke-width="1.4"/>
<path d="M177.58 761.50V764.00" stroke="#000" stroke-width="1.4"/>
<path d="M180.21 761.50V764.00" stroke="#000" stroke-width="1.4"/>
<path d="M182.49 761.50V764.00" stroke="#000" stroke-width="1.4"/>
<path d="M184.50 761.50V764.00" stroke="#000" stroke-width="1.4"/>
<path d="M186.30 761.50V765.50" stroke="#000" stroke-width="1.7"/>
<path d="M198.16 761.50V764.00" stroke="#000" stroke-width="1.4"/>
<path d="M205.10 761.50V764.00" stroke="#000" stroke-width="1.4"/>
<path d="M210.02 761.50V764.00" stroke="#000" stroke-width="1.4"/>
<path d="M213.84 761.50V764.00" stroke="#000" stroke-width="1.4"/>
<path d="M216.96 761.50V764.00" stroke="#000" stroke-width="1.4"/>
<path d="M219.60 761.50V764.00" stroke="#000" stroke-width="1.4"/>
<path d="M221.88 761.50V764.00" stroke="#000" stroke-width="1.4"/>
<path d="M223.90 761.50V764.00" stroke="#000" stroke-width="1.4"/>
<path d="M225.70 761.50V765.50" stroke="#000" stroke-width="1.7"/>
<path d="M237.50 761.50V764.00" stroke="#000" stroke-width="1.4"/>
<path d="M244.40 761.50V764.00" stroke="#000" stroke-width="1.4"/>
<path d="M249.30 761.50V764.00" stroke="#000" stroke-width="1.4"/>
<path d="M253.10 761.50V764.00" stroke="#000" stroke-width="1.4"/>
<path d="M256.20 761.50V764.00" stroke="#000" stroke-width="1.4"/>
<path d="M258.83 761.50V764.00" stroke="#000" stroke-width="1.4"/>
<path d="M261.10 761.50V764.00" stroke="#000" stroke-width="1.4"/>
<path d="M263.11 761.50V764.00" stroke="#000" stroke-width="1.4"/>
<path d="M264.90 761.50V765.50" stroke="#000" stroke-width="1.7"/>
<path d="M276.73 761.50V764.00" stroke="#000" stroke-width="1.4"/>
<path d="M283.65 761.50V764.00" stroke="#000" stroke-width="1.4"/>
<path d="M288.56 761.50V764.00" stroke="#000" stroke-width="1.4"/>
<path d="M292.37 761.50V764.00" stroke="#000" stroke-width="1.4"/>
<path d="M295.48 761.50V764.00" stroke="#000" stroke-width="1.4"/>
<path d="M298.11 761.50V764.00" stroke="#000" stroke-width="1.4"/>
<path d="M300.39 761.50V764.00" stroke="#000" stroke-width="1.4"/>
<path d="M302.40 761.50V764.00" stroke="#000" stroke-width="1.4"/>
<path d="M304.20 761.50V765.50" stroke="#000" stroke-width="1.7"/>
<path d="M316.09 761.50V764.00" stroke="#000" stroke-width="1.4"/>
<path d="M323.05 761.50V764.00" stroke="#000" stroke-width="1.4"/>
<path d="M327.98 761.50V764.00" stroke="#000" stroke-width="1.4"/>
<path d="M331.81 761.50V764.00" stroke="#000" stroke-width="1.4"/>
<path d="M334.94 761.50V764.00" stroke="#000" stroke-width="1.4"/>
<path d="M337.58 761.50V764.00" stroke="#000" stroke-width="1.4"/>
<path d="M339.87 761.50V764.00" stroke="#000" stroke-width="1.4"/>
<path d="M341.89 761.50V764.00" stroke="#000" stroke-width="1.4"/>
<path d="M343.70 761.50V765.50" stroke="#000" stroke-width="1.7"/>
<path d="M355.53 761.50V764.00" stroke="#000" stroke-width="1.4"/>
<path d="M362.45 761.50V764.00" stroke="#000" stroke-width="1.4"/>
<path d="M367.36 761.50V764.00" stroke="#000" stroke-width="1.4"/>
<path d="M371.17 761.50V764.00" stroke="#000" stroke-width="1.4"/>
<path d="M374.28 761.50V764.00" stroke="#000" stroke-width="1.4"/>
<path d="M376.91 761.50V764.00" stroke="#000" stroke-width="1.4"/>
<path d="M379.19 761.50V764.00" stroke="#000" stroke-width="1.4"/>
<path d="M381.20 761.50V764.00" stroke="#000" stroke-width="1.4"/>
<path d="M383.00 761.50V765.50" stroke="#000" stroke-width="1.7"/>
<text x="147.00" y="779.00" font-size="11.3" font-weight="bold" text-anchor="middle" font-family='"Liberation Sans", sans-serif'>0.01</text>
<text x="186.30" y="779.00" font-size="11.3" font-weight="bold" text-anchor="middle" font-family='"Liberation Sans", sans-serif'>0.1</text>
<text x="225.70" y="779.00" font-size="11.3" font-weight="bold" text-anchor="middle" font-family='"Liberation Sans", sans-serif'>1</text>
<text x="264.90" y="779.00" font-size="11.3" font-weight="bold" text-anchor="middle" font-family='"Liberation Sans", sans-serif'>10</text>
<text x="304.20" y="779.00" font-size="11.3" font-weight="bold" text-anchor="middle" font-family='"Liberation Sans", sans-serif'>100</text>
<text x="343.70" y="779.00" font-size="11.3" font-weight="bold" text-anchor="middle" font-family='"Liberation Sans", sans-serif'>1,000</text>
<text x="383.00" y="779.00" font-size="11.3" font-weight="bold" text-anchor="middle" font-family='"Liberation Sans", sans-serif'>10,000</text>
<path d="M186.30 755.20L225.70 757.00L264.90 754.20L304.20 749.00L343.70 732.10" stroke="#0808bc" stroke-width="1.7" fill="none" stroke-linejoin="round"/>
<path d="M304.20 744.80V753.30M300.30 744.80H308.10M300.30 753.30H308.10" stroke="#0808bc" stroke-width="1.5" fill="none"/>
<path d="M343.70 726.60V737.90M339.80 726.60H347.60M339.80 737.90H347.60" stroke="#0808bc" stroke-width="1.5" fill="none"/>
<path d="M186.30 750.90L190.20 755.20L186.30 759.50L182.40 755.20Z" fill="#5aa8ff" stroke="#0808bc" stroke-width="1.5"/>
<path d="M225.70 752.70L229.60 757.00L225.70 761.30L221.80 757.00Z" fill="#5aa8ff" stroke="#0808bc" stroke-width="1.5"/>
<path d="M264.90 749.90L268.80 754.20L264.90 758.50L261.00 754.20Z" fill="#5aa8ff" stroke="#0808bc" stroke-width="1.5"/>
<path d="M304.20 744.70L308.10 749.00L304.20 753.30L300.30 749.00Z" fill="#5aa8ff" stroke="#0808bc" stroke-width="1.5"/>
<path d="M343.70 727.80L347.60 732.10L343.70 736.40L339.80 732.10Z" fill="#5aa8ff" stroke="#0808bc" stroke-width="1.5"/>
<path d="M186.30 757.00L225.70 751.80L264.90 757.00L304.20 757.20L343.70 757.60" stroke="#a00a0a" stroke-width="1.7" fill="none" stroke-linejoin="round"/>
<path d="M225.70 744.20V759.40M221.80 744.20H229.60M221.80 759.40H229.60" stroke="#a00a0a" stroke-width="1.5" fill="none"/>
<path d="M186.30 760.40L190.40 753.30L182.20 753.30Z" fill="#ffb0b4" stroke="#a00a0a" stroke-width="1.5" stroke-linejoin="miter"/>
<path d="M225.70 755.20L229.80 748.10L221.60 748.10Z" fill="#ffb0b4" stroke="#a00a0a" stroke-width="1.5" stroke-linejoin="miter"/>
<path d="M264.90 760.40L269.00 753.30L260.80 753.30Z" fill="#ffb0b4" stroke="#a00a0a" stroke-width="1.5" stroke-linejoin="miter"/>
<path d="M304.20 760.60L308.30 753.50L300.10 753.50Z" fill="#ffb0b4" stroke="#a00a0a" stroke-width="1.5" stroke-linejoin="miter"/>
<path d="M343.70 761.00L347.80 753.90L339.60 753.90Z" fill="#ffb0b4" stroke="#a00a0a" stroke-width="1.5" stroke-linejoin="miter"/>
<path d="M186.30 685.60L225.70 627.10L264.90 617.30L304.20 616.00L343.70 611.60" stroke="#ff5a0a" stroke-width="1.7" fill="none" stroke-linejoin="round"/>
<rect x="182.25" y="681.55" width="8.1" height="8.1" fill="#ffc48c" stroke="#ff5a0a" stroke-width="1.5"/>
<rect x="221.65" y="623.05" width="8.1" height="8.1" fill="#ffc48c" stroke="#ff5a0a" stroke-width="1.5"/>
<rect x="260.85" y="613.25" width="8.1" height="8.1" fill="#ffc48c" stroke="#ff5a0a" stroke-width="1.5"/>
<rect x="300.15" y="611.95" width="8.1" height="8.1" fill="#ffc48c" stroke="#ff5a0a" stroke-width="1.5"/>
<rect x="339.65" y="607.55" width="8.1" height="8.1" fill="#ffc48c" stroke="#ff5a0a" stroke-width="1.5"/>
<path d="M186.30 757.30L225.70 758.50L264.90 758.30L304.20 759.20L343.70 759.80" stroke="#0b8a58" stroke-width="1.7" fill="none" stroke-linejoin="round"/>
<path d="M186.30 753.90L190.40 761.00L182.20 761.00Z" fill="#c2f7e2" stroke="#0b8a58" stroke-width="1.5" stroke-linejoin="miter"/>
<path d="M225.70 755.10L229.80 762.20L221.60 762.20Z" fill="#c2f7e2" stroke="#0b8a58" stroke-width="1.5" stroke-linejoin="miter"/>
<path d="M264.90 754.90L269.00 762.00L260.80 762.00Z" fill="#c2f7e2" stroke="#0b8a58" stroke-width="1.5" stroke-linejoin="miter"/>
<path d="M304.20 755.80L308.30 762.90L300.10 762.90Z" fill="#c2f7e2" stroke="#0b8a58" stroke-width="1.5" stroke-linejoin="miter"/>
<path d="M343.70 756.40L347.80 763.50L339.60 763.50Z" fill="#c2f7e2" stroke="#0b8a58" stroke-width="1.5" stroke-linejoin="miter"/>
<path d="M186.30 741.90L225.70 698.30L264.90 680.30L304.20 667.90L343.70 673.40" stroke="#6a0aa6" stroke-width="1.7" fill="none" stroke-linejoin="round"/>
<path d="M186.30 726.70V757.50M182.40 726.70H190.20M182.40 757.50H190.20" stroke="#6a0aa6" stroke-width="1.5" fill="none"/>
<path d="M225.70 684.00V712.30M221.80 684.00H229.60M221.80 712.30H229.60" stroke="#6a0aa6" stroke-width="1.5" fill="none"/>
<path d="M264.90 672.50V688.20M261.00 672.50H268.80M261.00 688.20H268.80" stroke="#6a0aa6" stroke-width="1.5" fill="none"/>
<path d="M343.70 667.00V679.80M339.80 667.00H347.60M339.80 679.80H347.60" stroke="#6a0aa6" stroke-width="1.5" fill="none"/>
<circle cx="186.30" cy="741.90" r="3.95" fill="#e194f7" stroke="#6a0aa6" stroke-width="1.5"/>
<circle cx="225.70" cy="698.30" r="3.95" fill="#e194f7" stroke="#6a0aa6" stroke-width="1.5"/>
<circle cx="264.90" cy="680.30" r="3.95" fill="#e194f7" stroke="#6a0aa6" stroke-width="1.5"/>
<circle cx="304.20" cy="667.90" r="3.95" fill="#e194f7" stroke="#6a0aa6" stroke-width="1.5"/>
<circle cx="343.70" cy="673.40" r="3.95" fill="#e194f7" stroke="#6a0aa6" stroke-width="1.5"/>
<path d="M418.8 615.30H435.6" stroke="#6a0aa6" stroke-width="1.8"/>
<circle cx="427.20" cy="615.30" r="3.95" fill="#e194f7" stroke="#6a0aa6" stroke-width="1.5"/>
<text x="445.2" y="617.90" font-size="12.4" textLength="20.9" lengthAdjust="spacingAndGlyphs" font-family='"Liberation Sans", sans-serif'>Tp9</text>
<text x="466.0" y="621.40" font-size="9.7" textLength="24.7" lengthAdjust="spacingAndGlyphs" font-family='"Liberation Sans", sans-serif'>67-75</text>
<path d="M418.8 633.30H435.6" stroke="#0b8a58" stroke-width="1.8"/>
<path d="M427.20 629.90L431.30 637.00L423.10 637.00Z" fill="#c2f7e2" stroke="#0b8a58" stroke-width="1.5" stroke-linejoin="miter"/>
<text x="445.2" y="636.00" font-size="12.4" textLength="20.9" lengthAdjust="spacingAndGlyphs" font-family='"Liberation Sans", sans-serif'>Tp9</text>
<text x="466.0" y="639.40" font-size="9.7" textLength="12.5" lengthAdjust="spacingAndGlyphs" font-family='"Liberation Sans", sans-serif'>V2</text>
<polygon points="498.20,632.70 498.76,634.03 500.20,634.15 499.10,635.09 499.43,636.50 498.20,635.75 496.97,636.50 497.30,635.09 496.20,634.15 497.64,634.03" fill="#111"/><polygon points="502.40,632.70 502.96,634.03 504.40,634.15 503.30,635.09 503.63,636.50 502.40,635.75 501.17,636.50 501.50,635.09 500.40,634.15 501.84,634.03" fill="#111"/><polygon points="506.60,632.70 507.16,634.03 508.60,634.15 507.50,635.09 507.83,636.50 506.60,635.75 505.37,636.50 505.70,635.09 504.60,634.15 506.04,634.03" fill="#111"/><polygon points="510.80,632.70 511.36,634.03 512.80,634.15 511.70,635.09 512.03,636.50 510.80,635.75 509.57,636.50 509.90,635.09 508.80,634.15 510.24,634.03" fill="#111"/>
<path d="M418.8 651.60H435.6" stroke="#ff5a0a" stroke-width="1.8"/>
<rect x="423.15" y="647.55" width="8.1" height="8.1" fill="#ffc48c" stroke="#ff5a0a" stroke-width="1.5"/>
<text x="445.2" y="654.30" font-size="12.4" textLength="20.9" lengthAdjust="spacingAndGlyphs" font-family='"Liberation Sans", sans-serif'>Tp9</text>
<text x="466.0" y="657.50" font-size="9.7" textLength="12.7" lengthAdjust="spacingAndGlyphs" font-family='"Liberation Sans", sans-serif'>V4</text>
<polygon points="498.20,651.80 498.76,653.13 500.20,653.25 499.10,654.19 499.43,655.60 498.20,654.85 496.97,655.60 497.30,654.19 496.20,653.25 497.64,653.13" fill="#111"/><polygon points="502.40,651.80 502.96,653.13 504.40,653.25 503.30,654.19 503.63,655.60 502.40,654.85 501.17,655.60 501.50,654.19 500.40,653.25 501.84,653.13" fill="#111"/><polygon points="506.60,651.80 507.16,653.13 508.60,653.25 507.50,654.19 507.83,655.60 506.60,654.85 505.37,655.60 505.70,654.19 504.60,653.25 506.04,653.13" fill="#111"/><polygon points="510.80,651.80 511.36,653.13 512.80,653.25 511.70,654.19 512.03,655.60 510.80,654.85 509.57,655.60 509.90,654.19 508.80,653.25 510.24,653.13" fill="#111"/>
<path d="M418.8 671.80H435.6" stroke="#0808bc" stroke-width="1.8"/>
<path d="M427.20 667.50L431.10 671.80L427.20 676.10L423.30 671.80Z" fill="#5aa8ff" stroke="#0808bc" stroke-width="1.5"/>
<text x="445.2" y="674.10" font-size="12.4" textLength="20.9" lengthAdjust="spacingAndGlyphs" font-family='"Liberation Sans", sans-serif'>Tp9</text>
<text x="466.0" y="677.60" font-size="9.7" textLength="11.9" lengthAdjust="spacingAndGlyphs" font-family='"Liberation Sans", sans-serif'>V7</text>
<polygon points="498.20,673.10 498.76,674.43 500.20,674.55 499.10,675.49 499.43,676.90 498.20,676.15 496.97,676.90 497.30,675.49 496.20,674.55 497.64,674.43" fill="#111"/><polygon points="502.40,673.10 502.96,674.43 504.40,674.55 503.30,675.49 503.63,676.90 502.40,676.15 501.17,676.90 501.50,675.49 500.40,674.55 501.84,674.43" fill="#111"/><polygon points="506.60,673.10 507.16,674.43 508.60,674.55 507.50,675.49 507.83,676.90 506.60,676.15 505.37,676.90 505.70,675.49 504.60,674.55 506.04,674.43" fill="#111"/><polygon points="510.80,673.10 511.36,674.43 512.80,674.55 511.70,675.49 512.03,676.90 510.80,676.15 509.57,676.90 509.90,675.49 508.80,674.55 510.24,674.43" fill="#111"/>
<path d="M418.8 689.80H435.6" stroke="#a00a0a" stroke-width="1.8"/>
<path d="M427.20 693.20L431.30 686.10L423.10 686.10Z" fill="#ffb0b4" stroke="#a00a0a" stroke-width="1.5" stroke-linejoin="miter"/>
<text x="445.2" y="692.20" font-size="12.4" textLength="20.9" lengthAdjust="spacingAndGlyphs" font-family='"Liberation Sans", sans-serif'>Tp9</text>
<text x="466.0" y="695.90" font-size="9.7" textLength="12.2" lengthAdjust="spacingAndGlyphs" font-family='"Liberation Sans", sans-serif'>V9</text>
<polygon points="498.20,690.40 498.76,691.73 500.20,691.85 499.10,692.79 499.43,694.20 498.20,693.45 496.97,694.20 497.30,692.79 496.20,691.85 497.64,691.73" fill="#111"/><polygon points="502.40,690.40 502.96,691.73 504.40,691.85 503.30,692.79 503.63,694.20 502.40,693.45 501.17,694.20 501.50,692.79 500.40,691.85 501.84,691.73" fill="#111"/><polygon points="506.60,690.40 507.16,691.73 508.60,691.85 507.50,692.79 507.83,694.20 506.60,693.45 505.37,694.20 505.70,692.79 504.60,691.85 506.04,691.73" fill="#111"/><polygon points="510.80,690.40 511.36,691.73 512.80,691.85 511.70,692.79 512.03,694.20 510.80,693.45 509.57,694.20 509.90,692.79 508.80,691.85 510.24,691.73" fill="#111"/>
<text x="265.6" y="796.4" font-size="12.0" font-weight="bold" text-anchor="middle" textLength="91.6" lengthAdjust="spacingAndGlyphs" font-family='"Liberation Sans", sans-serif'>Tp9 conc. [nM]</text></svg>
</body></html>
